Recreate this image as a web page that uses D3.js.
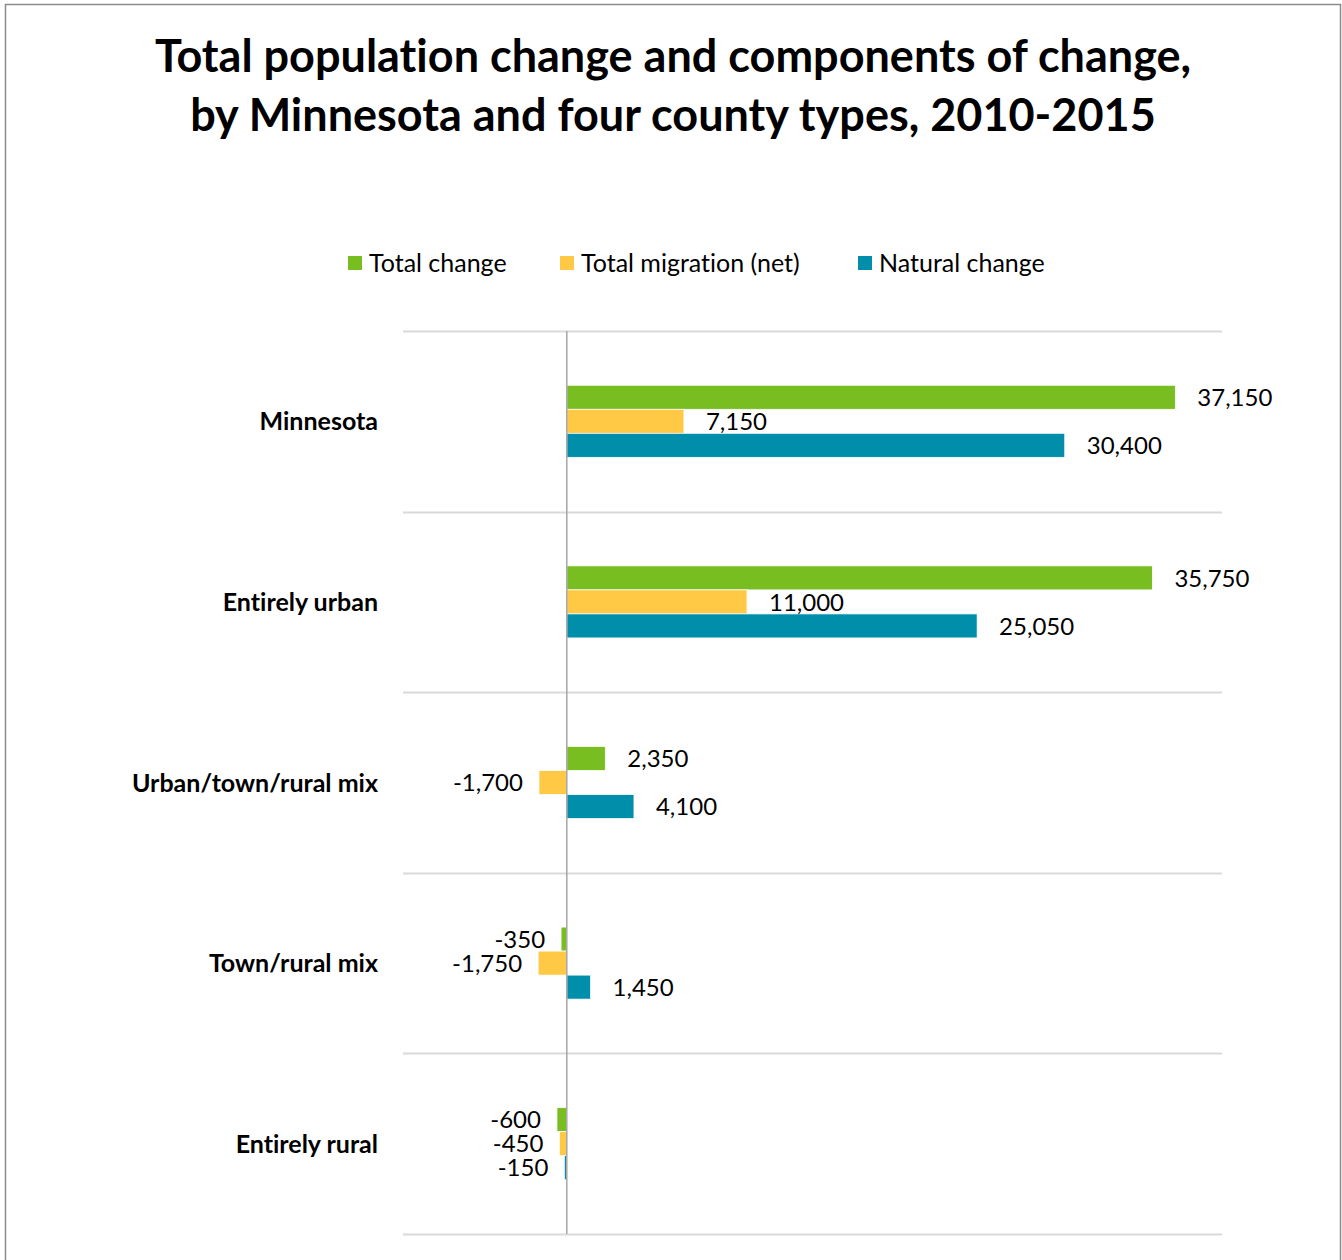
<!DOCTYPE html>
<html>
<head>
<meta charset="utf-8">
<script src="https://cdn.jsdelivr.net/npm/d3@7"></script>
<style>
  html, body { margin: 0; padding: 0; background: #fff; }
  svg { display: block; }
  text { font-family: Lato, "Open Sans", sans-serif; fill: #000; font-variant-ligatures: none; }
</style>
</head>
<body>
<svg id="chart" width="1342" height="1260"></svg>
<script>
// County types and the three measures of population change, 2010-2015
const categories = ["Minnesota", "Entirely urban", "Urban/town/rural mix", "Town/rural mix", "Entirely rural"];
const seriesNames = ["Total change", "Total migration (net)", "Natural change"];
const totalChange = [37150, 35750, 2350, -350, -600];
const totalMigration = [7150, 11000, -1700, -1750, -450];
const naturalChange = [30400, 25050, 4100, 1450, -150];
const seriesColors = ["#78BE21", "#FFC845", "#008EAA"];
const titleLines = ["Total population change and components of change,",
                    "by Minnesota and four county types, 2010-2015"];

const seriesValues = [totalChange, totalMigration, naturalChange];
const rows = categories.map((c, i) => ({
  category: c,
  values: seriesNames.map((s, j) => ({ series: s, idx: j, value: seriesValues[j][i] }))
}));

const svg = d3.select("#chart");
const W = 1342, H = 1260;

// outer frame (open at the bottom)
svg.append("path")
  .attr("d", `M5.5,${H} V4.5 H1340.5 V${H}`)
  .attr("fill", "none")
  .attr("stroke", "#8c8c8c")
  .attr("stroke-width", 1.5);

// title
const title = svg.append("text")
  .attr("text-anchor", "middle")
  .attr("font-weight", 700)
  .attr("font-size", 45);
titleLines.forEach((t, i) => {
  title.append("tspan").attr("x", 673).attr("y", 72 + i * 59).text(t);
});

// plot area
const plot = { left: 403, right: 1222, top: 331, bottom: 1234 };
const x = d3.scaleLinear().domain([-10000, 40000]).range([plot.left, plot.right]);
const y0 = d3.scaleBand().domain(categories).range([plot.top, plot.bottom]).padding(0);
const y1 = d3.scaleBand().domain(seriesNames).range([0, y0.bandwidth()])
  .paddingInner(0).paddingOuter(2.26);

// horizontal category separators
const bounds = categories.map(c => y0(c)).concat([plot.bottom]);
svg.append("g").selectAll("line").data(bounds).join("line")
  .attr("x1", plot.left).attr("x2", plot.right)
  .attr("y1", d => Math.round(d) + 0.5).attr("y2", d => Math.round(d) + 0.5)
  .attr("stroke", "#d9d9d9").attr("stroke-width", 2);

// bars
const fmt = d3.format(",");
const groups = svg.append("g").selectAll("g").data(rows).join("g")
  .attr("transform", d => `translate(0,${y0(d.category)})`);

groups.selectAll("rect").data(d => d.values).join("rect")
  .attr("x", d => x(Math.min(0, d.value)))
  .attr("width", d => Math.abs(x(d.value) - x(0)))
  .attr("y", d => y1(d.series))
  .attr("height", y1.bandwidth())
  .attr("fill", d => seriesColors[d.idx])
  .attr("stroke", "#fff")
  .attr("stroke-width", 0.75);

// value labels
groups.selectAll("text.val").data(d => d.values).join("text")
  .attr("class", "val")
  .attr("font-size", 24)
  .attr("text-anchor", d => d.value < 0 ? "end" : "start")
  .attr("x", d => d.value < 0 ? x(d.value) - 16 : x(d.value) + 22)
  .attr("y", d => y1(d.series) + y1.bandwidth() / 2)
  .attr("dy", "0.36em")
  .text(d => fmt(d.value).replace("−", "-"));

// zero axis
svg.append("line")
  .attr("x1", x(0)).attr("x2", x(0))
  .attr("y1", plot.top).attr("y2", plot.bottom)
  .attr("stroke", "#a6a6a6").attr("stroke-width", 1.5);

// category labels
svg.append("g").selectAll("text").data(categories).join("text")
  .attr("x", 378)
  .attr("y", d => y0(d) + y0.bandwidth() / 2)
  .attr("dy", "0.36em")
  .attr("text-anchor", "end")
  .attr("font-weight", 700)
  .attr("font-size", 25)
  .text(d => d);

// legend
const legendX = [348, 560, 858];
const legend = svg.append("g").selectAll("g").data(seriesNames).join("g")
  .attr("transform", (d, i) => `translate(${legendX[i]},256)`);
legend.append("rect").attr("width", 14).attr("height", 14)
  .attr("fill", (d, i) => seriesColors[i]);
legend.append("text").attr("x", 21).attr("y", 7).attr("dy", "0.36em")
  .attr("font-size", 25).text(d => d);
</script>
</body>
</html>
